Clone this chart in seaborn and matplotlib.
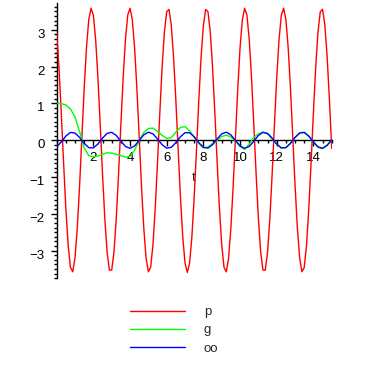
import numpy as np
import pandas as pd
import matplotlib
matplotlib.use("Agg")
import matplotlib.pyplot as plt
import matplotlib.transforms as mtransforms
from matplotlib.ticker import MultipleLocator
import seaborn as sns

# ---- data ----
t_fine = np.linspace(0, 15, 121)      # sampling of p
t_coarse = np.linspace(0, 15, 61)     # sampling of g and oo

p_vals = [
    2.932, 1.970, 0.733, -0.605, -1.861, -2.854, -3.454, -3.573, -3.189, -2.363,
    -1.224, 0.099, 1.408, 2.523, 3.280, 3.587, 3.394, 2.730, 1.687, 0.408,
    -0.926, -2.134, -3.043, -3.529, -3.525, -3.033, -2.117, -0.912, 0.425, 1.702,
    2.740, 3.401, 3.586, 3.273, 2.505, 1.390, 0.080, -1.241, -2.387, -3.200,
    -3.574, -3.449, -2.844, -1.838, -0.594, 0.751, 1.984, 2.942, 3.492, 3.555,
    3.124, 2.259, 1.082, -0.250, -1.548, -2.620, -3.337, -3.590, -3.333, -2.613,
    -1.539, -0.261, 1.072, 2.252, 3.119, 3.553, 3.494, 2.948, 1.993, 0.760,
    -0.577, -1.837, -2.837, -3.447, -3.575, -3.203, -2.386, -1.250, 0.071, 1.382,
    2.504, 3.270, 3.585, 3.403, 2.748, 1.712, 0.436, -0.900, -2.111, -3.028,
    -3.524, -3.531, -3.048, -2.141, -0.940, 0.397, 1.678, 2.722, 3.391, 3.587,
    3.284, 2.525, 1.416, 0.108, -1.214, -2.366, -3.188, -3.572, -3.459, -2.862,
    -1.862, -0.618, 0.724, 1.961, 2.927, 3.485, 3.558, 3.137, 2.280, 1.107,
    -0.222,
]

g_vals = [
    1.00, 0.995, 0.96, 0.85, 0.63, 0.23, -0.21, -0.42, -0.45, -0.43,
    -0.38, -0.34, -0.35, -0.38, -0.42, -0.46, -0.44, -0.27, 0.00, 0.21,
    0.32, 0.33, 0.24, 0.13, 0.05, 0.07, 0.22, 0.35, 0.37, 0.26,
    0.08, -0.08, -0.21, -0.18, -0.09, 0.00, 0.10, 0.14, 0.09, -0.02,
    -0.17, -0.25, -0.10, 0.08, 0.17, 0.22, 0.17, 0.04, -0.11, -0.21,
    -0.20, -0.08, 0.08, 0.20, 0.22, 0.11, -0.05, -0.19, -0.23, -0.14,
    0.01,
]

oo_vals = [
    -0.180, -0.045, 0.114, 0.212, 0.195, 0.075, -0.086, -0.201, -0.208, -0.103,
    0.057, 0.187, 0.216, 0.130, -0.026, -0.168, -0.220, -0.154, -0.005, 0.146,
    0.219, 0.174, 0.036, -0.122, -0.214, -0.192, -0.066, 0.095, 0.205, 0.204,
    0.094, -0.066, -0.191, -0.214, -0.122, 0.035, 0.174, 0.219, 0.146, -0.004,
    -0.153, -0.220, -0.168, -0.027, 0.129, 0.216, 0.187, 0.058, -0.103, -0.208,
    -0.201, -0.087, 0.074, 0.195, 0.212, 0.114, -0.044, -0.179, -0.218, -0.140,
    0.014,
]

series_names = ["p", "g", "oo"]
series_colors = ["#ff0000", "#00ff00", "#0000ff"]
x_ticks = [2, 4, 6, 8, 10, 12, 14]
y_ticks = [-3, -2, -1, 0, 1, 2, 3]
x_label = "t"

df = pd.concat([
    pd.DataFrame({"t": t_fine, "value": p_vals, "series": "p"}),
    pd.DataFrame({"t": t_coarse, "value": g_vals, "series": "g"}),
    pd.DataFrame({"t": t_coarse, "value": oo_vals, "series": "oo"}),
], ignore_index=True)

# ---- figure ----
sns.set_style("white")
plt.rcParams["font.family"] = ["Liberation Sans", "DejaVu Sans"]
FS = 9.5

W = H = 365
fig = plt.figure(figsize=(W / 100, H / 100), dpi=100)
ax = fig.add_axes([56.7 / W, 1 - 278.3 / H, 275 / W, 275 / H])

sns.lineplot(data=df, x="t", y="value", hue="series", hue_order=series_names,
             palette=dict(zip(series_names, series_colors)), linewidth=1.0,
             estimator=None, ax=ax)

ax.set_xlim(0, 15)
ax.set_ylim(-3.75, 3.72)
ax.set_xlabel("")
ax.set_ylabel("")

for s in ["top", "right"]:
    ax.spines[s].set_visible(False)
ax.spines["left"].set_position(("data", 0))
ax.spines["bottom"].set_position(("data", 0))
for s in ["left", "bottom"]:
    ax.spines[s].set_color("black")
    ax.spines[s].set_linewidth(1.0)
    ax.spines[s].set_zorder(0.5)

ax.set_xticks(x_ticks)
ax.set_yticks(y_ticks)
ax.xaxis.set_minor_locator(MultipleLocator(0.5))
ax.yaxis.set_minor_locator(MultipleLocator(0.125))
ax.tick_params(which="major", length=4, width=1, direction="out",
               colors="black", labelsize=FS)
ax.tick_params(which="minor", length=2, width=1, direction="out", colors="black")
ax.tick_params(axis="x", which="both", bottom=True, pad=4.5)
ax.tick_params(axis="y", which="both", left=True, pad=4.5)

off = mtransforms.ScaledTranslation(0, -3.5 / 100, fig.dpi_scale_trans)
for tk in ax.yaxis.get_major_ticks():
    tk.label1.set_transform(tk.label1.get_transform() + off)

fig.text(194 / W, 1 - 178 / H, x_label, ha="center", va="center", fontsize=FS)

handles, labels = ax.get_legend_handles_labels()
if ax.get_legend() is not None:
    ax.get_legend().remove()
fig.legend(handles, labels, loc="upper left",
           bbox_to_anchor=(130 / W, 1 - 306 / H), frameon=False,
           handlelength=4.2, handletextpad=1.4, labelspacing=0.45,
           borderpad=0, borderaxespad=0, fontsize=FS)

fig.savefig("out.png", dpi=100)
